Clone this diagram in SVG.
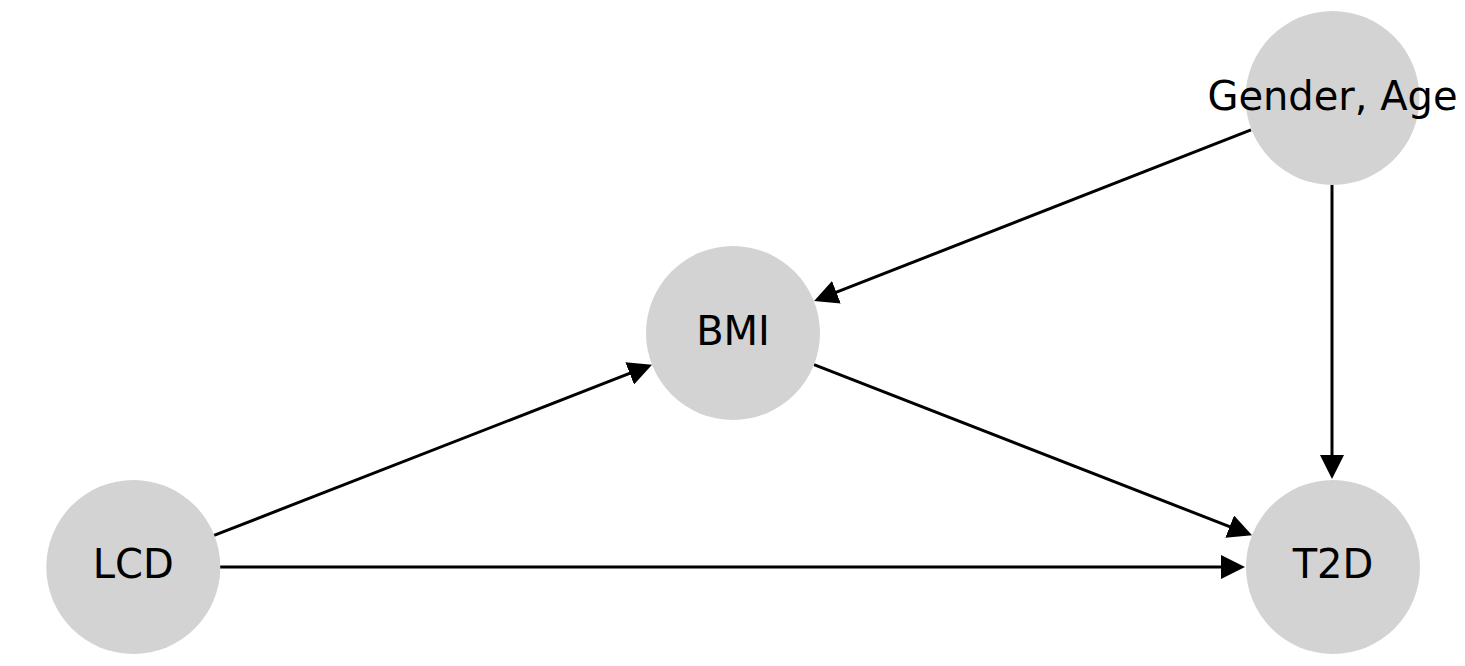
<svg xmlns="http://www.w3.org/2000/svg" width="1465" height="666" viewBox="0 0 1465 666">
<style>
.node circle{fill:#d3d3d3;}
.node text{font-family:"DejaVu Sans",sans-serif;font-size:40px;fill:#000;text-anchor:middle;}
.edge{stroke:#000;stroke-width:3;fill:none;marker-end:url(#arrow);}
</style>
<defs>
<marker id="arrow" markerUnits="userSpaceOnUse" markerWidth="24" markerHeight="24" viewBox="0 0 24 24" refX="4" refY="12" orient="auto">
<path d="M0,0 L24,12 L0,24 z" fill="#000"/>
</marker>
</defs>
<rect width="1465" height="666" fill="#fff"/>
<g id="connectors">
<line class="edge" x1="214" y1="535.4" x2="633.4" y2="371.9"/>
<line class="edge" x1="814" y1="364.6" x2="1233.4" y2="528.1"/>
<line class="edge" x1="1251" y1="129.8" x2="832.7" y2="293.7"/>
<line class="edge" x1="1332" y1="185" x2="1332" y2="459"/>
<line class="edge" x1="220" y1="567" x2="1225" y2="567"/>
</g>
<g id="node-gender-age" class="node">
<circle cx="1332.5" cy="98" r="87"/>
<text x="1332.5" y="109.5">Gender, Age</text>
</g>
<g id="node-bmi" class="node">
<circle cx="733" cy="333" r="87"/>
<text x="733" y="344.5">BMI</text>
</g>
<g id="node-lcd" class="node">
<circle cx="133.3" cy="567" r="87"/>
<text x="133.3" y="578">LCD</text>
</g>
<g id="node-t2d" class="node">
<circle cx="1333" cy="567" r="87"/>
<text x="1333" y="578">T2D</text>
</g>
</svg>
